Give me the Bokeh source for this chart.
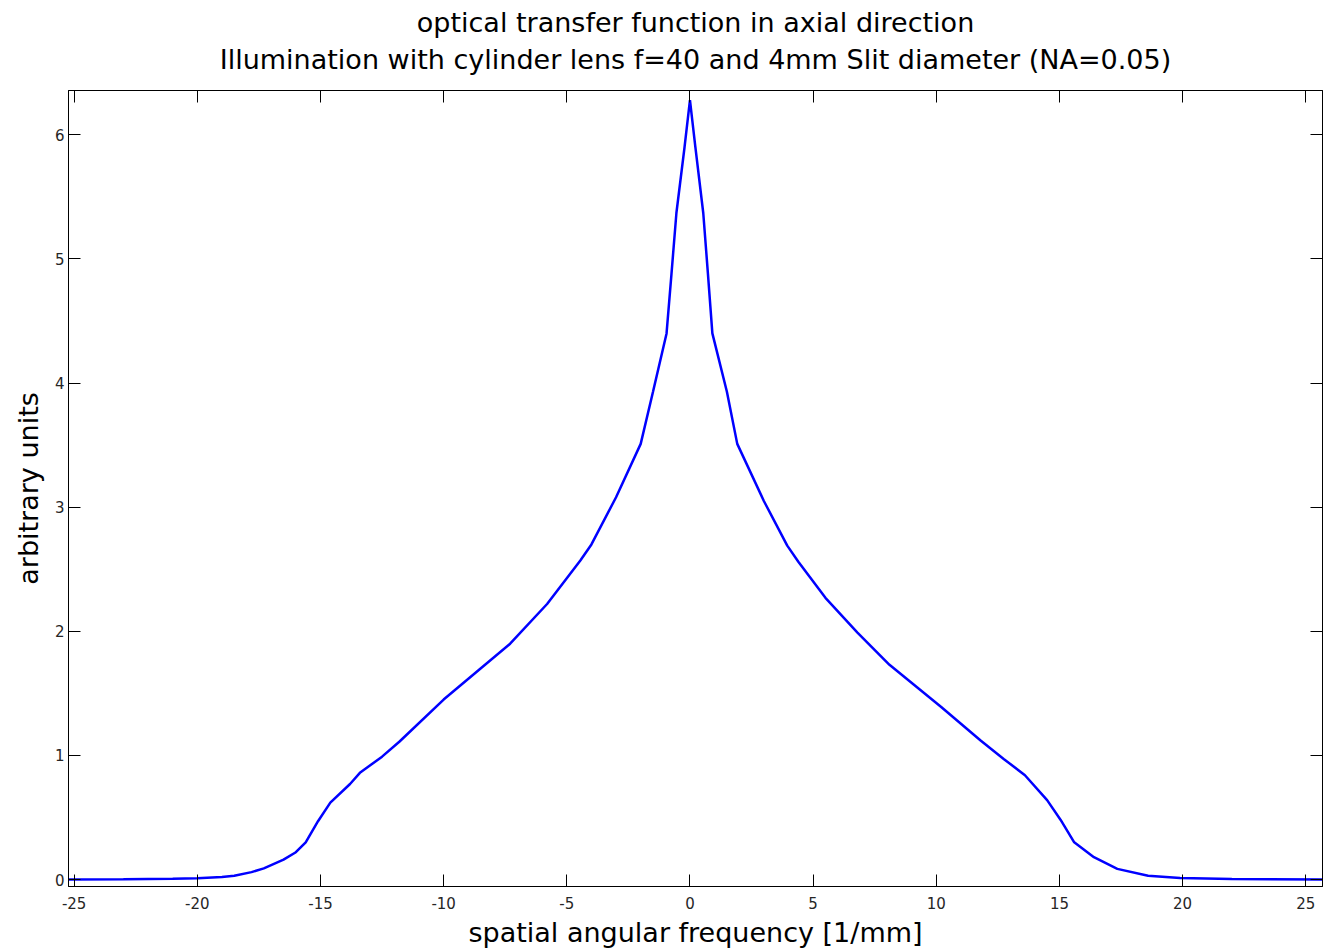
from bokeh.plotting import figure
from bokeh.models import Range1d, LinearAxis, FixedTicker, Title, PrintfTickFormatter
from bokeh.embed import file_html
from bokeh.resources import INLINE

# data
freq = [-25.23, -23.0, -21.0, -20.0, -19.0, -18.5, -17.8, -17.3, -16.5, -16.0,
        -15.6, -15.1, -14.6, -13.8, -13.4, -12.5, -11.8, -10.0, -8.5, -7.3,
        -5.8, -4.45, -4.0, -3.0, -2.0, -1.5, -0.95, -0.75, -0.55, -0.22,
        0.0, 0.22, 0.54, 0.73, 0.91, 1.5, 1.92, 3.0, 3.95, 4.4,
        5.5, 6.8, 8.1, 10.2, 11.8, 12.75, 13.6, 14.5, 15.05, 15.6,
        16.4, 17.35, 18.6, 19.9, 22.0, 25.68]
otf = [0.0, 0.002, 0.006, 0.01, 0.02, 0.03, 0.06, 0.09, 0.16, 0.22,
       0.30, 0.47, 0.62, 0.77, 0.86, 0.99, 1.11, 1.45, 1.70, 1.90,
       2.22, 2.57, 2.70, 3.08, 3.51, 3.93, 4.40, 4.88, 5.37, 5.90,
       6.28, 5.90, 5.37, 4.88, 4.40, 3.93, 3.51, 3.05, 2.69, 2.56,
       2.27, 1.99, 1.73, 1.39, 1.12, 0.97, 0.84, 0.64, 0.48, 0.30,
       0.18, 0.086, 0.03, 0.012, 0.004, 0.0]
x_ticks = [-25, -20, -15, -10, -5, 0, 5, 10, 15, 20, 25]
y_ticks = [0, 1, 2, 3, 4, 5, 6]
title_line1 = "optical transfer function in axial direction"
title_line2 = "Illumination with cylinder lens f=40 and 4mm Slit diameter (NA=0.05)"
x_label = "spatial angular frequency [1/mm]"
y_label = "arbitrary units"

FONT = "DejaVu Sans"

p = figure(frame_width=1254, frame_height=796,
           x_range=Range1d(-25.23, 25.68), y_range=Range1d(-0.056, 6.357),
           output_backend="svg", toolbar_location=None,
           x_axis_location=None, y_axis_location=None,
           min_border_left=68, min_border_right=2, min_border_top=90,
           min_border_bottom=58, background_fill_color="white",
           border_fill_color="white")
p.title.text = ""
p.grid.visible = False
p.outline_line_color = "black"
p.outline_line_width = 1


def make_axis(ticks, labels, label_text=None):
    ax = LinearAxis()
    ax.ticker = FixedTicker(ticks=ticks)
    ax.axis_line_color = "black"
    ax.major_tick_line_color = "black"
    ax.major_tick_in = 12
    ax.major_tick_out = 0
    ax.minor_tick_line_color = None
    ax.major_label_text_font = FONT
    ax.major_label_text_font_size = "15px"
    ax.major_label_text_color = "#262626"
    if labels:
        ax.formatter = PrintfTickFormatter(format="%d")
    else:
        ax.major_label_overrides = {t: "" for t in ticks}
        ax.major_label_standoff = 0
    if label_text:
        ax.axis_label = label_text
        ax.axis_label_text_font = FONT
        ax.axis_label_text_font_size = "27px"
        ax.axis_label_text_font_style = "normal"
        ax.axis_label_text_color = "black"
    return ax


bx = make_axis(x_ticks, True, x_label)
tx = make_axis(x_ticks, False)
ly = make_axis(y_ticks, True, y_label)
ry = make_axis(y_ticks, False)
bx.major_label_standoff = 10
bx.axis_label_standoff = 5
ly.major_label_standoff = 4
ly.axis_label_standoff = 8

p.add_layout(bx, "below")
p.add_layout(ly, "left")
p.add_layout(tx, "above")
p.add_layout(ry, "right")

# invisible spacer axis between the box and the title lines
spacer = make_axis(x_ticks, False)
spacer.axis_line_color = None
spacer.major_tick_line_color = None
spacer.major_tick_in = 0
spacer.major_tick_out = 14
p.add_layout(spacer, "above")

for txt, so in ((title_line2, 4), (title_line1, 4)):
    t = Title(text=txt, align="center", text_font=FONT, text_font_size="27px",
              text_font_style="normal", text_color="black", standoff=so, offset=0)
    p.add_layout(t, "above")

p.line(freq, otf, line_color="#0000FF", line_width=2.5)

open("out.html", "w").write(file_html(p, INLINE))
